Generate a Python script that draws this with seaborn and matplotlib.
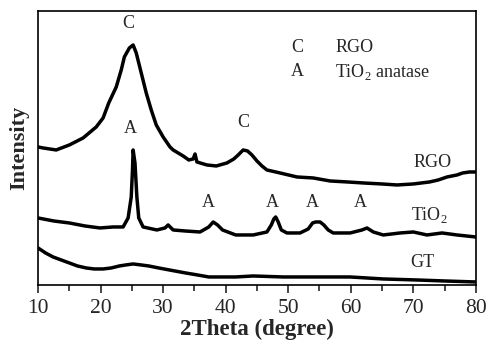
import numpy as np
import pandas as pd
import matplotlib
matplotlib.use('Agg')
import matplotlib.pyplot as plt
import seaborn as sns

# (2theta in degrees, intensity in arbitrary offset units)
rgo_x = [10, 10.8, 12.9, 15, 17.2, 19.3, 20.4, 21.3, 22.5, 23.3, 23.8, 24.6, 25.2, 25.7, 26.5,
         27.3, 28.1, 28.9, 30, 31.1, 31.6, 33.2, 34.1, 34.8, 35.1, 35.4, 37, 38.5, 40.2, 41.3,
         42, 42.8, 43.5, 44.2, 45, 45.8, 46.6, 48.7, 51.4, 54, 56.7, 59.5, 62, 65, 67.4, 70,
         72.6, 74, 75.4, 77, 77.9, 79, 80]
rgo_y = [138, 137, 135, 140, 147, 158, 167, 182, 198, 215, 228, 237, 240, 232, 212,
         192, 175, 160, 148, 138, 135, 129, 125, 126, 131, 123, 120, 119, 122, 126,
         130, 135, 134, 130, 124, 119, 115, 112, 108, 107, 104, 103, 102, 101, 100, 101,
         103, 105, 108, 110, 112, 113, 113]

tio2_x = [10, 12.5, 15, 17.5, 19.9, 22, 23.6, 24.4, 24.9, 25.1, 25.2, 25.5, 25.8, 26.1, 26.8,
          29, 30.3, 30.8, 31.6, 33.5, 35.9, 37.3, 38, 38.7, 39.5, 41.6, 44.4, 46.6, 47.3, 47.7,
          48, 48.4, 48.9, 49.8, 51.9, 53.2, 53.9, 54.4, 55.1, 55.7, 56.4, 57.2, 59.9, 61.8,
          62.6, 63.6, 65.2, 67.9, 70, 72.2, 74.6, 77, 80]
tio2_y = [67, 64, 62, 59, 57, 58, 58, 67, 88, 115, 135, 122, 88, 67, 58,
          55, 57, 60, 55, 54, 53, 58, 63, 60, 55, 50, 50, 53, 60, 66,
          68, 63, 55, 52, 52, 56, 62, 63, 63, 60, 55, 52, 52, 55,
          57, 53, 50, 52, 53, 50, 52, 50, 48]

gt_x = [10, 11.2, 12.4, 13.7, 15, 16.3, 17.7, 19, 20.4, 21.7, 23, 24, 25.2, 26.5, 27.7, 29.3,
        31, 33.6, 35.5, 37.3, 41.6, 44.4, 49.2, 54.6, 59.9, 65.2, 70.6, 75, 80]
gt_y = [37, 32, 28, 25, 22, 19, 17, 16, 16, 17, 19, 20, 21, 20, 19, 17,
        15, 12, 10, 8, 8, 9, 8, 8, 8, 6, 5, 4, 3]

peak_labels = ['C', 'C', 'A', 'A', 'A', 'A', 'A']
peak_x = [24.4, 42.8, 24.7, 37.2, 47.4, 53.8, 61.6]
peak_y = [253, 154, 148, 74, 74, 74, 74]

sample_names = ['RGO', 'TiO$_2$', 'GT']
sample_x = [73.1, 72.6, 71.5]
sample_y = [122, 70, 22]

sns.set_style('ticks')
plt.rcParams['font.family'] = ['Liberation Serif', 'DejaVu Serif']
plt.rcParams['mathtext.fontset'] = 'custom'
plt.rcParams['mathtext.rm'] = 'Liberation Serif'

fig = plt.figure(figsize=(4.88, 3.54), dpi=100)
ax = fig.add_axes([0.078, 0.195, 0.897, 0.774])

for xs, ys in [(rgo_x, rgo_y), (tio2_x, tio2_y), (gt_x, gt_y)]:
    sns.lineplot(x=xs, y=ys, ax=ax, color='black', linewidth=2.5, sort=False)

for lab, px, py in zip(peak_labels, peak_x, peak_y):
    ax.text(px, py, lab, ha='center', va='bottom', fontsize=13)
for lab, px, py in zip(sample_names, sample_x, sample_y):
    ax.text(px, py, lab, ha='center', va='center', fontsize=13)

# legend-like key
ax.text(51.4, 237, 'C', ha='center', va='center', fontsize=13)
ax.text(57.5, 237, 'RGO', ha='left', va='center', fontsize=13)
ax.text(51.4, 213, 'A', ha='center', va='center', fontsize=13)
ax.text(57.5, 213, 'TiO$_2$ anatase', ha='left', va='center', fontsize=13)

ax.set_xlim(10, 80)
ax.set_ylim(0, 274)
ax.set_xticks([10, 20, 30, 40, 50, 60, 70, 80])
ax.set_xticks(np.arange(15, 80, 10), minor=True)
ax.set_yticks([])
ax.tick_params(axis='x', which='major', direction='out', length=6, width=1.2, labelsize=15.5, pad=4)
ax.tick_params(axis='x', which='minor', direction='out', length=4, width=1.2)
for s in ax.spines.values():
    s.set_linewidth(1.2)
    s.set_color('black')

ax.set_xlabel('2Theta (degree)', fontsize=16.5, fontweight='bold', labelpad=1)
ax.set_ylabel('Intensity', fontsize=16, fontweight='bold', labelpad=6)

fig.savefig('out.png', dpi=100)
